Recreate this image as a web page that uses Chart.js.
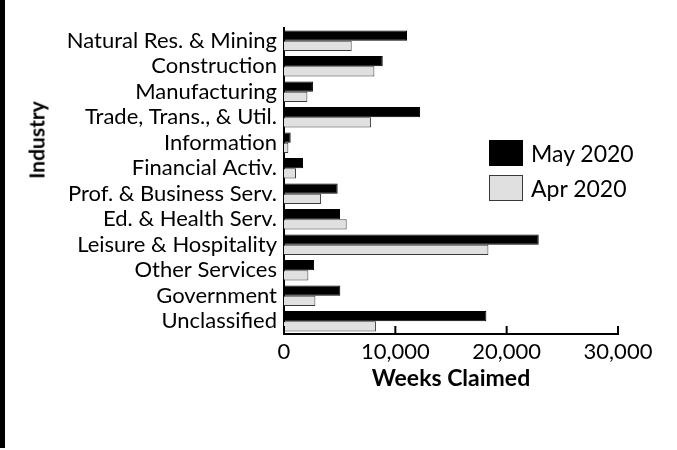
<!DOCTYPE html>
<html>
<head>
<meta charset="utf-8">
<script src="https://cdn.jsdelivr.net/npm/chart.js@4"></script>
<style>
  body { margin: 0; background: #fff; }
  #wrap { position: relative; width: 677px; height: 450px; }
  #edge { position: absolute; left: 0; top: 0; width: 5px; height: 448px; background: #000; }
  #ytitle { position: absolute; left: 36px; top: 140px; transform: translate(-50%, -50%) rotate(-90deg);
            font: bold 21px Lato, sans-serif; color: #000; white-space: nowrap; }
  #legend { position: absolute; left: 489px; top: 140px; font: 23px Lato, sans-serif; color: #000; }
  .item { display: flex; align-items: center; height: 26px; margin-bottom: 9px; }
  .box { width: 34px; height: 26px; margin-right: 8px; box-sizing: border-box; }
</style>
</head>
<body>
<div id="wrap">
  <canvas id="barGraph" width="677" height="450"></canvas>
  <div id="edge"></div>
  <div id="ytitle">Industry</div>
  <div id="legend"></div>
</div>
<script>
var industries = ['Natural Res. & Mining', 'Construction', 'Manufacturing', 'Trade, Trans., & Util.',
    'Information', 'Financial Activ.', 'Prof. & Business Serv.', 'Ed. & Health Serv.',
    'Leisure & Hospitality', 'Other Services', 'Government', 'Unclassified'];
var may2020 = [11050, 8870, 2600, 12220, 600, 1710, 4820, 5030, 22880, 2700, 5060, 18180];
var apr2020 = [6080, 8120, 2100, 7820, 390, 1080, 3320, 5630, 18360, 2190, 2820, 8270];
var xTicks = [0, 10000, 20000, 30000];

var seriesList = [
    { label: 'May 2020', data: may2020, fill: '#000000', border: '#000000' },
    { label: 'Apr 2020', data: apr2020, fill: '#e0e0e0', border: '#3a3a3a' }
];

// tick marks point up into the plot
var innerTicks = {
    id: 'innerTicks',
    afterDraw: function(chart) {
        var ctx = chart.ctx;
        var x = chart.scales.x;
        ctx.save();
        ctx.strokeStyle = '#000';
        ctx.lineWidth = 2;
        xTicks.forEach(function(v) {
            var px = x.getPixelForValue(v);
            ctx.beginPath();
            ctx.moveTo(px, x.top);
            ctx.lineTo(px, x.top - 8);
            ctx.stroke();
        });
        ctx.restore();
    }
};

function buildLegend() {
    var html = '';
    seriesList.forEach(function(s) {
        html += '<div class="item"><div class="box" style="background:' + s.fill +
            ';border:1.5px solid ' + s.border + '"></div>' + s.label + '</div>';
    });
    document.getElementById('legend').innerHTML = html;
}

function barChart() {
    var ctx = document.getElementById('barGraph').getContext('2d');
    var chart = new Chart(ctx, {
    type: 'bar',
    data: {
        labels: industries,
        datasets: seriesList.map(function(s) {
            return {
                label: s.label,
                data: s.data,
                backgroundColor: s.fill,
                borderColor: s.border,
                borderWidth: 1,
                categoryPercentage: 0.8,
                barPercentage: 1.0
            };
        })
    },
    options: {
        indexAxis: 'y',
        responsive: false,
        animation: false,
        layout: { padding: { top: 28, right: 59, bottom: 0, left: 0 } },
        plugins: {
            legend: { display: false },
            tooltip: { enabled: false }
        },
        scales: {
            x: {
                min: 0,
                max: 30000,
                afterFit: function(scale) { scale.height = 116; },
                afterBuildTicks: function(scale) {
                    scale.ticks = xTicks.map(function(v) { return { value: v }; });
                },
                grid: { display: false, drawTicks: false },
                border: { display: true, color: '#000', width: 2 },
                ticks: {
                    color: '#000',
                    padding: 5,
                    font: { family: 'Lato', size: 22 },
                    callback: function(v) { return v.toLocaleString('en-US'); }
                },
                title: {
                    display: true,
                    text: 'Weeks Claimed',
                    color: '#000',
                    font: { family: 'Lato', size: 23, weight: 'bold' },
                    padding: { top: 0, bottom: 58 }
                }
            },
            y: {
                afterFit: function(scale) { scale.width = 284; },
                grid: { display: false, drawTicks: false },
                border: { display: true, color: '#000', width: 2 },
                ticks: {
                    color: '#000',
                    padding: 7,
                    autoSkip: false,
                    font: { family: 'Lato', size: 22 }
                }
            }
        }
    },
    plugins: [innerTicks]
    });
}

buildLegend();
barChart();
</script>
</body>
</html>
